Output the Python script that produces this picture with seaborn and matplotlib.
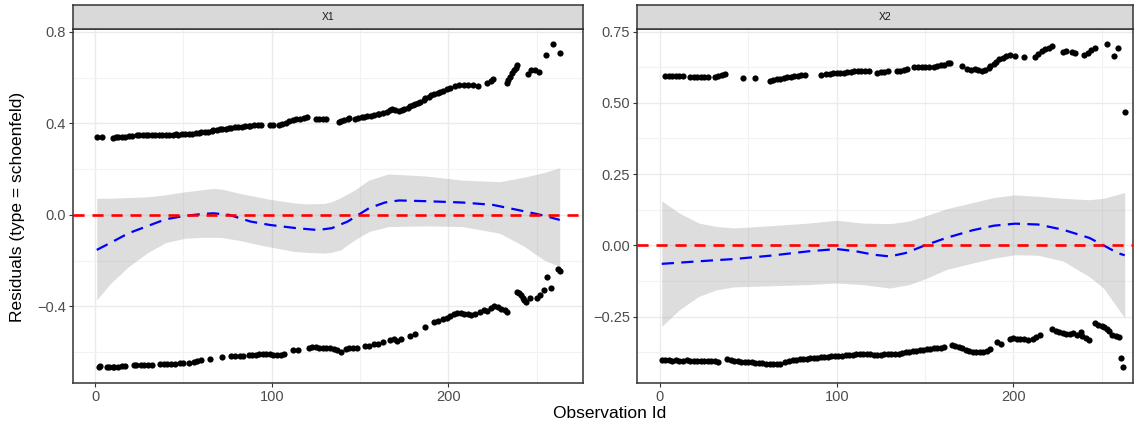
import numpy as np
import pandas as pd
import matplotlib
matplotlib.use("Agg")
import matplotlib.pyplot as plt
import seaborn as sns

# ---- Schoenfeld residuals, covariate X1 ----
x1_hi_obs = [1, 4, 10, 12, 13, 15, 17, 19, 21, 24, 25, 27, 29, 30, 32, 34, 36, 38, 40,
             42, 44, 46, 47, 49, 51, 53, 55, 57, 59, 60, 62, 64, 66, 67, 69, 71,
             72, 74, 76, 77, 79, 81, 83, 85, 87, 88, 90, 92, 94, 99, 101, 104,
             106, 108, 110, 112, 114, 116, 118, 120, 125, 127, 129, 131,
             138, 139, 141, 143, 144, 147, 149, 151, 152, 154, 156, 158, 160, 161, 163, 165,
             167, 168, 170, 172, 174, 175, 177, 178, 180, 181, 183, 184,
             186, 187, 189, 190, 192, 194, 195, 197, 199, 201, 204, 206, 209, 211, 214, 217,
             222, 224, 225, 233, 234, 235, 236, 237, 238, 239, 245, 247, 249, 251, 255, 259, 263]
x1_hi_res = [0.339, 0.341, 0.338, 0.339, 0.340, 0.341, 0.342, 0.344, 0.346, 0.347, 0.348, 0.347,
             0.348, 0.349, 0.348, 0.349, 0.350, 0.350, 0.351,
             0.350, 0.351, 0.352, 0.351, 0.352, 0.353, 0.352, 0.354, 0.356, 0.358, 0.360, 0.362,
             0.364, 0.367, 0.369, 0.372, 0.374,
             0.375, 0.377, 0.379, 0.381, 0.382, 0.384, 0.386, 0.388, 0.389, 0.390, 0.392, 0.393,
             0.394, 0.391, 0.391, 0.392,
             0.398, 0.403, 0.408, 0.413, 0.417, 0.421, 0.424, 0.426, 0.419, 0.420, 0.419, 0.419,
             0.406, 0.411, 0.416, 0.421, 0.424, 0.421, 0.424, 0.427, 0.429, 0.431, 0.434, 0.437,
             0.440, 0.442, 0.446, 0.451,
             0.458, 0.461, 0.456, 0.454, 0.460, 0.464, 0.469, 0.474, 0.479, 0.484, 0.489, 0.494,
             0.503, 0.509, 0.516, 0.523, 0.529, 0.534, 0.538, 0.543, 0.548, 0.553, 0.565, 0.568,
             0.567, 0.566, 0.567, 0.564,
             0.577, 0.585, 0.592, 0.576, 0.590, 0.604, 0.618, 0.632, 0.643, 0.655, 0.616, 0.633,
             0.635, 0.622, 0.697, 0.745, 0.705]
x1_lo_obs = [2, 3, 7, 8, 10, 11, 13, 15, 17, 22, 23, 26, 28, 30, 32, 37, 39, 41, 43, 45, 48,
             50, 53, 56, 58, 60, 65, 72, 77, 79, 82, 84, 87, 89, 91, 93, 95, 97, 99, 101, 103,
             105, 107, 112, 115, 121, 123, 125, 127, 129, 131, 133, 135, 137, 139,
             142, 144, 146, 148, 153, 155, 158, 160, 163, 167, 169, 171, 173, 178, 181, 187,
             192, 194, 197, 199, 201, 203, 205, 207, 209, 211, 213, 215,
             218, 220, 222, 224, 226, 228, 230, 232, 233,
             239, 240, 241, 242, 243, 244, 246, 250, 252, 254, 256, 258, 262, 263]
x1_lo_res = [-0.663, -0.662, -0.663, -0.665, -0.666, -0.665, -0.664, -0.662, -0.660, -0.655,
             -0.654, -0.655, -0.656, -0.655, -0.655, -0.652, -0.651, -0.652, -0.652, -0.650,
             -0.649, -0.648, -0.645, -0.643, -0.640, -0.635, -0.631, -0.622, -0.617, -0.616,
             -0.616, -0.615, -0.611, -0.610, -0.611, -0.609, -0.609, -0.608, -0.609, -0.610,
             -0.611, -0.610, -0.608, -0.592, -0.588, -0.580, -0.578, -0.579, -0.580, -0.580,
             -0.581, -0.583, -0.587, -0.592, -0.597,
             -0.584, -0.582, -0.582, -0.581, -0.573, -0.571, -0.565, -0.562, -0.557, -0.546,
             -0.543, -0.549, -0.542, -0.529, -0.520, -0.491,
             -0.466, -0.463, -0.456, -0.452, -0.440, -0.432, -0.428, -0.430, -0.434, -0.431,
             -0.436, -0.435,
             -0.424, -0.415, -0.418, -0.408, -0.400, -0.402, -0.410, -0.417, -0.423,
             -0.335, -0.343, -0.352, -0.362, -0.372, -0.380, -0.362, -0.364, -0.350, -0.330,
             -0.272, -0.320, -0.235, -0.245]

# loess fit of X1 residuals and its confidence band
x1_fit_obs = [1, 9, 19, 30, 40, 51, 61, 67, 76, 88, 99, 114, 126, 134, 143, 149, 155, 164,
              172, 187, 208, 225, 239, 250, 256, 263]
x1_fit_res = [-0.153, -0.121, -0.080, -0.048, -0.019, -0.004, 0.004, 0.007, 0.000, -0.029,
              -0.044, -0.058, -0.066, -0.058, -0.029, 0.000, 0.029, 0.054, 0.063, 0.060,
              0.054, 0.044, 0.022, 0.004, -0.007, -0.022]
x1_band_obs = [1, 9, 19, 30, 40, 51, 61, 67, 72, 82, 93, 99, 113, 120, 130, 134, 139, 147,
               155, 166, 187, 208, 229, 243, 254, 263]
x1_band_hi = [0.072, 0.073, 0.076, 0.079, 0.088, 0.101, 0.110, 0.116, 0.112, 0.094, 0.077,
              0.068, 0.052, 0.048, 0.050, 0.058, 0.075, 0.109, 0.152, 0.179, 0.170, 0.152,
              0.145, 0.165, 0.185, 0.206]
x1_band_lo = [-0.371, -0.298, -0.226, -0.164, -0.121, -0.102, -0.098, -0.098, -0.099, -0.112,
              -0.131, -0.140, -0.160, -0.164, -0.167, -0.163, -0.153, -0.109, -0.073, -0.051,
              -0.048, -0.051, -0.080, -0.138, -0.197, -0.226]

# ---- Schoenfeld residuals, covariate X2 ----
x2_hi_obs = [3, 5, 7, 9, 11, 13, 17, 19, 21, 23, 25, 27, 31, 33, 35, 37, 47, 54,
             62, 64, 66, 68, 70, 72, 74, 76, 78, 80, 82, 91,
             94, 96, 98, 100, 102, 104, 106, 108, 110, 112, 114, 116, 118,
             123, 125, 127, 129, 134, 136, 138, 140, 144, 146, 148, 150, 152,
             155, 157, 159, 161, 163, 164, 171, 174, 176, 178, 180, 182, 184,
             186, 187, 189, 190, 192, 194, 196, 198, 201, 206,
             212, 214, 216, 218, 220, 222, 228, 230, 233, 235, 240, 242, 244, 246,
             253, 257, 259, 263]
x2_hi_res = [0.595, 0.595, 0.595, 0.594, 0.594, 0.595, 0.591, 0.591, 0.592, 0.591, 0.592,
             0.592, 0.590, 0.593, 0.597, 0.600, 0.586, 0.586,
             0.578, 0.579, 0.582, 0.584, 0.587, 0.589, 0.591, 0.593, 0.595, 0.597, 0.598, 0.596,
             0.600, 0.602, 0.603, 0.604, 0.605, 0.606, 0.607, 0.609, 0.610, 0.612, 0.611,
             0.610, 0.611,
             0.605, 0.607, 0.608, 0.610, 0.611, 0.612, 0.614, 0.617, 0.625, 0.627, 0.626,
             0.627, 0.627,
             0.626, 0.629, 0.631, 0.634, 0.638, 0.641, 0.630, 0.618, 0.616, 0.617, 0.616,
             0.613, 0.616,
             0.622, 0.628, 0.636, 0.644, 0.652, 0.658, 0.665, 0.668, 0.665, 0.660,
             0.662, 0.673, 0.682, 0.688, 0.694, 0.700, 0.680, 0.681, 0.679, 0.676, 0.668,
             0.675, 0.685, 0.692, 0.706, 0.666, 0.694, 0.468]
x2_lo_obs = [1, 3, 5, 7, 9, 11, 13, 15, 17, 19, 21, 23, 25, 27, 29, 31, 33,
             38, 40, 42, 44, 46, 48, 50, 52, 54, 56, 58, 60, 62, 64, 66, 68,
             71, 73, 75, 77, 79, 81, 83, 85, 87, 89, 91, 93, 95, 97, 99, 101,
             103, 105, 107, 109, 111, 113, 115, 117, 119, 121, 123, 125,
             127, 129, 131, 133, 135, 137, 139, 141, 143, 145, 147, 149, 151, 153, 155, 157,
             159, 161, 165, 167, 169, 171, 173, 175, 177, 179, 181, 183, 185, 187,
             191, 193, 198, 200, 202, 204, 206, 208, 211, 213, 215,
             222, 224, 226, 228, 230, 232, 234, 236, 238, 239, 241, 243,
             246, 248, 250, 251, 253, 254, 256, 258, 260, 261, 262]
x2_lo_res = [-0.402, -0.404, -0.404, -0.405, -0.404, -0.406, -0.405, -0.404, -0.406, -0.407,
             -0.406, -0.405, -0.405, -0.406, -0.405, -0.407, -0.408,
             -0.400, -0.403, -0.405, -0.407, -0.408, -0.409, -0.410, -0.411, -0.412, -0.413,
             -0.414, -0.415, -0.416, -0.416, -0.417, -0.416,
             -0.409, -0.407, -0.404, -0.402, -0.400, -0.399, -0.398, -0.397, -0.396, -0.395,
             -0.393, -0.392, -0.391, -0.390, -0.389, -0.389,
             -0.388, -0.386, -0.385, -0.384, -0.383, -0.381, -0.380, -0.380, -0.382, -0.384,
             -0.386, -0.386,
             -0.383, -0.382, -0.381, -0.380, -0.380, -0.378, -0.376, -0.374, -0.372, -0.370,
             -0.368, -0.366, -0.364, -0.363, -0.362, -0.360,
             -0.359, -0.358, -0.349, -0.354, -0.358, -0.362, -0.366, -0.370, -0.373, -0.375,
             -0.376, -0.375, -0.372, -0.364,
             -0.338, -0.346, -0.328, -0.326, -0.327, -0.329, -0.330, -0.332, -0.329, -0.322,
             -0.315,
             -0.294, -0.300, -0.305, -0.308, -0.310, -0.310, -0.308, -0.314, -0.303, -0.318,
             -0.326, -0.332,
             -0.274, -0.278, -0.283, -0.288, -0.292, -0.302, -0.314, -0.318, -0.320, -0.396,
             -0.428]

# loess fit of X2 residuals and its confidence band
x2_fit_obs = [1, 22, 42, 63, 84, 100, 111, 121, 130, 139, 150, 162, 177, 189, 201, 214, 228,
              243, 251, 259, 263]
x2_fit_res = [-0.065, -0.056, -0.048, -0.036, -0.021, -0.013, -0.021, -0.033, -0.039, -0.027,
              0.000, 0.026, 0.053, 0.069, 0.076, 0.073, 0.055, 0.026, 0.000, -0.027, -0.035]
x2_band_obs = [1, 11, 22, 32, 42, 63, 84, 100, 115, 130, 141, 151, 162, 177, 189, 201, 214,
               228, 243, 251, 263]
x2_band_hi = [0.156, 0.113, 0.078, 0.066, 0.061, 0.069, 0.078, 0.088, 0.078, 0.076, 0.085,
              0.105, 0.128, 0.150, 0.168, 0.177, 0.172, 0.165, 0.160, 0.165, 0.185]
x2_band_lo = [-0.284, -0.226, -0.179, -0.156, -0.146, -0.142, -0.138, -0.132, -0.138, -0.150,
              -0.138, -0.115, -0.085, -0.062, -0.045, -0.033, -0.035, -0.055, -0.110, -0.150,
              -0.255]

covariates = ["X1", "X2"]

points = pd.concat([
    pd.DataFrame({"covariate": "X1", "obs": x1_hi_obs + x1_lo_obs, "residual": x1_hi_res + x1_lo_res}),
    pd.DataFrame({"covariate": "X2", "obs": x2_hi_obs + x2_lo_obs, "residual": x2_hi_res + x2_lo_res}),
], ignore_index=True)
fits = pd.concat([
    pd.DataFrame({"covariate": "X1", "obs": x1_fit_obs, "residual": x1_fit_res}),
    pd.DataFrame({"covariate": "X2", "obs": x2_fit_obs, "residual": x2_fit_res}),
], ignore_index=True)
bands = {
    "X1": (x1_band_obs, x1_band_lo, x1_band_hi),
    "X2": (x2_band_obs, x2_band_lo, x2_band_hi),
}

sns.set_theme(style="white")
plt.rcParams["font.family"] = ["Liberation Sans", "DejaVu Sans"]

W, H = 1143, 430
fig = plt.figure(figsize=(W / 100, H / 100), dpi=100)

# panel boxes in pixels: left, right, top, bottom
boxes = {"X1": (73, 583, 29, 382.7), "X2": (637, 1133, 29, 382.7)}
x0_px = {"X1": 95.0, "X2": 660.0}
px_per_obs = 1.767
ylims = {"X1": (-0.733, 0.812), "X2": (-0.482, 0.759)}
yticks = {"X1": [-0.4, 0.0, 0.4, 0.8], "X2": [-0.25, 0.0, 0.25, 0.5, 0.75]}
yminor = {"X1": [-0.6, -0.2, 0.2, 0.6], "X2": [-0.375, -0.125, 0.125, 0.375, 0.625]}
yfmt = {"X1": "{:.1f}", "X2": "{:.2f}"}

border = "#333333"
for cov in covariates:
    l, r, t, b = boxes[cov]
    ax = fig.add_axes([l / W, 1 - b / H, (r - l) / W, (b - t) / H])
    ax.set_xlim((l - x0_px[cov]) / px_per_obs, (r - x0_px[cov]) / px_per_obs)
    ax.set_ylim(*ylims[cov])

    ax.set_xticks([0, 100, 200])
    ax.set_xticks([50, 150, 250], minor=True)
    ax.set_yticks(yticks[cov])
    ax.set_yticks(yminor[cov], minor=True)
    ax.set_yticklabels([yfmt[cov].format(v).replace("-", "\u2212") for v in yticks[cov]])
    ax.grid(True, which="major", color="#EBEBEB", linewidth=1.0, zorder=0)
    ax.grid(True, which="minor", color="#F2F2F2", linewidth=0.8, zorder=0)
    ax.set_axisbelow(True)
    ax.tick_params(axis="both", which="major", direction="out", length=3, width=0.8,
                   color=border, labelsize=10.5, labelcolor="#4D4D4D", pad=2,
                   bottom=True, left=True)
    ax.tick_params(axis="both", which="minor", length=0)
    for s in ax.spines.values():
        s.set_color(border)
        s.set_linewidth(1.1)

    obs_b, lo_b, hi_b = bands[cov]
    ax.fill_between(obs_b, lo_b, hi_b, color="#999999", alpha=0.33, linewidth=0, zorder=1)

    sns.scatterplot(data=points[points.covariate == cov], x="obs", y="residual", ax=ax,
                    color="black", s=20, linewidth=0, zorder=3, legend=False)
    sns.lineplot(data=fits[fits.covariate == cov], x="obs", y="residual", ax=ax,
                 color="blue", linewidth=1.6, dashes=False, zorder=4, legend=False,
                 estimator=None, sort=True)
    ax.lines[-1].set_dashes([5.5, 3.3])
    ax.axhline(0, color="#FF0000", linewidth=1.9, dashes=(4.2, 3.0), zorder=5)
    ax.set_xlabel("")
    ax.set_ylabel("")

    # facet strip
    sax = fig.add_axes([l / W, 1 - t / H, (r - l) / W, (t - 5) / H])
    sax.set_xticks([])
    sax.set_yticks([])
    sax.set_facecolor("#D9D9D9")
    for s in sax.spines.values():
        s.set_color(border)
        s.set_linewidth(1.1)
    sax.text(0.5, 0.5, cov, ha="center", va="center", fontsize=7.5, color="#1A1A1A",
             transform=sax.transAxes)

fig.text(18 / W, 1 - 207 / H, "Residuals (type = schoenfeld)", rotation=90,
         ha="center", va="center", fontsize=12.5, color="black")
fig.text(610 / W, 1 - 413 / H, "Observation Id", ha="center", va="center",
         fontsize=12.5, color="black")

fig.savefig("out.png", dpi=100)
